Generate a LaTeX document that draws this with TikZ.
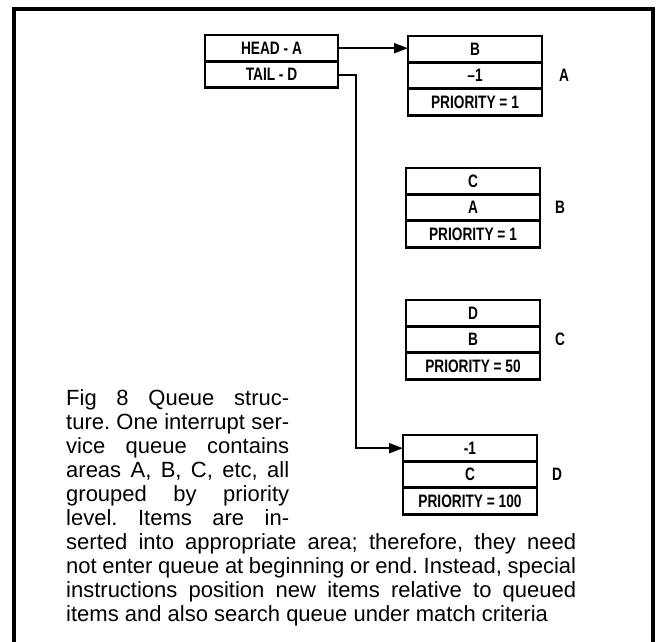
\documentclass[tikz,border=0pt]{standalone}
\usepackage{fontspec}
\setmainfont{Liberation Sans}
\newfontfamily\cellfont[FakeStretch=0.76]{Liberation Sans}
\usetikzlibrary{arrows.meta, positioning}
\tikzset{
  cell/.style={
    draw, line width=2.7pt, outer sep=0pt, inner sep=0pt,
    minimum width=134pt, minimum height=26.4pt,
    font=\cellfont\bfseries\fontsize{18}{18}\selectfont
  },
  area/.style={inner sep=0pt, font=\cellfont\bfseries\fontsize{18}{18}\selectfont},
  link/.style={line width=2pt, -{Triangle[length=14pt, width=10pt]}},
  frame/.style={line width=4pt},
  caption/.style={align=left, inner sep=0pt, font=\frenchspacing\fontsize{22}{24}\selectfont}
}

\begin{document}
\begin{tikzpicture}[x=1pt, y=-1pt]
  \useasboundingbox (0,0) rectangle (657,641);
  \draw[frame] (14,648) -- (14,9) -- (653,9) -- (653,648);

  % head and tail pointers
  \node[cell, minimum width=133pt, anchor=north west] (hd) at (205,35) {HEAD - A};
  \node[cell, minimum width=133pt, below=0pt of hd] (tl) {TAIL - D};

  % area A
  \node[cell, anchor=north west] (a1) at (408,36) {B};
  \node[cell, below=0pt of a1] (a2) {–1};
  \node[cell, below=0pt of a2] (a3) {PRIORITY = 1};
  \node[area, right=17pt of a2] (la) {A};

  % area B
  \node[cell, anchor=north west] (b1) at (406,168) {C};
  \node[cell, below=0pt of b1] (b2) {A};
  \node[cell, below=0pt of b2] (b3) {PRIORITY = 1};
  \node[area, right=15pt of b2] (lb) {B};

  % area C
  \node[cell, anchor=north west] (c1) at (406,300) {D};
  \node[cell, below=0pt of c1] (c2) {B};
  \node[cell, below=0pt of c2] (c3) {PRIORITY = 50};
  \node[area, right=15pt of c2] (lc) {C};

  % area D
  \node[cell, anchor=north west] (d1) at (403,435) {-1};
  \node[cell, below=0pt of d1] (d2) {C};
  \node[cell, below=0pt of d2] (d3) {PRIORITY = 100};
  \node[area, right=15pt of d2] (ld) {D};

  \draw[link] (hd.east) -- (hd.east -| a1.west);
  \draw[link] (tl.east) -- ++(18,0) |- (d1.west);

  % caption
  \node[caption, anchor=north west] (cap) at (66,389) {%
    \makebox[223pt][s]{Fig 8 Queue struc-}\\
    \makebox[223pt][s]{ture. One interrupt ser-}\\
    \makebox[223pt][s]{vice queue contains}\\
    \makebox[223pt][s]{areas A, B, C, etc, all}\\
    \makebox[223pt][s]{grouped by priority}\\
    \makebox[223pt][s]{level. Items are in-}\\
    \makebox[510pt][s]{serted into appropriate area; therefore, they need}\\
    \makebox[510pt][s]{not enter queue at beginning or end. Instead, special}\\
    \makebox[510pt][s]{instructions position new items relative to queued}\\
    items and also search queue under match criteria};
\end{tikzpicture}
\end{document}
